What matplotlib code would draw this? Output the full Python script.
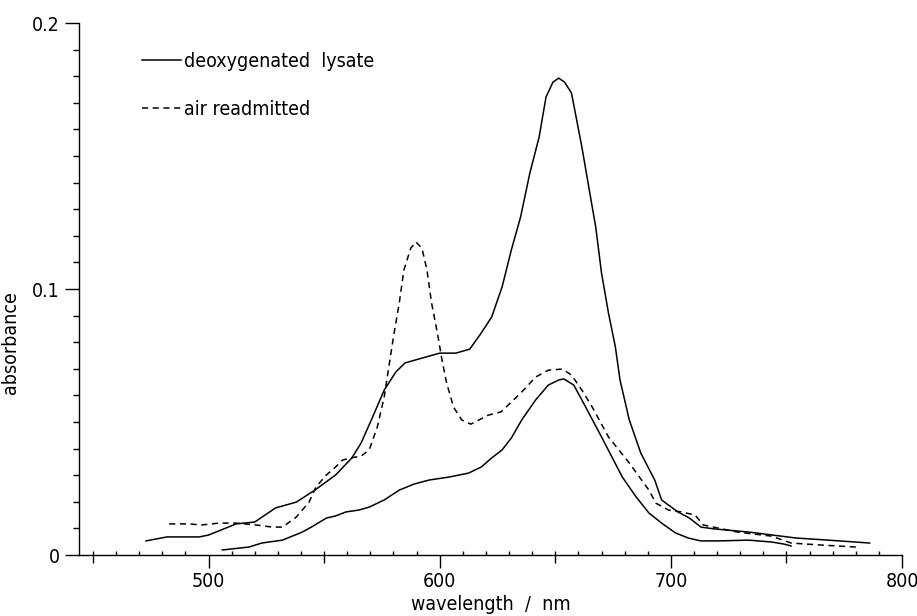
import numpy as np
import matplotlib
matplotlib.use("Agg")
import matplotlib.pyplot as plt
from matplotlib.ticker import MultipleLocator

plt.rcParams['font.family'] = ['DejaVu Sans']
plt.rcParams['font.stretch'] = 'condensed'
plt.rcParams['font.weight'] = 'light'

# deoxygenated lysate (upper solid trace)
deoxy_nm = [473, 482, 496, 500, 512, 520, 529, 538, 546, 555, 562, 566, 571, 576,
            581, 585, 591, 600, 607, 613, 618, 622.5, 627, 631, 635, 639, 643, 646,
            649, 651.5, 654, 657, 659, 661.5, 664.5, 667.5, 670, 673, 676, 678, 682,
            687, 693, 696, 703, 708, 713, 719, 734, 744, 754, 768, 786]
deoxy_abs = [0.0053, 0.0068, 0.0068, 0.0075, 0.0117, 0.0124, 0.0177, 0.0199, 0.0244,
             0.0301, 0.0365, 0.0421, 0.0519, 0.0620, 0.0688, 0.0722, 0.0737, 0.0759,
             0.0759, 0.0774, 0.0835, 0.0895, 0.1008, 0.1147, 0.1271, 0.1436, 0.1571,
             0.1722, 0.1778, 0.1793, 0.1778, 0.1737, 0.1647, 0.1534, 0.1383, 0.1233,
             0.1060, 0.0910, 0.0782, 0.0658, 0.0508, 0.0383, 0.0282, 0.0207, 0.0162,
             0.0139, 0.0105, 0.0098, 0.0086, 0.0075, 0.0064, 0.0056, 0.0045]

# air readmitted (dashed trace)
air_nm = [483, 491.5, 497, 504.5, 512, 520.5, 527.5, 532, 538, 543.5, 546.5, 551, 555,
          558, 561.5, 566, 569.5, 573, 576, 578, 580, 582.5, 584.5, 587.5, 589.7, 592.3,
          594.5, 596.5, 599, 601, 603, 606, 609.5, 613.5, 617, 621, 626.5, 631, 635.5,
          641.5, 647, 653, 657, 661.5, 666, 673, 682, 690.5, 693.5, 699, 704.5, 710.5,
          714, 729, 743.5, 752, 764, 780]
air_abs = [0.0117, 0.0117, 0.0113, 0.0120, 0.0120, 0.0113, 0.0105, 0.0105, 0.0143,
           0.0199, 0.0256, 0.0301, 0.0331, 0.0357, 0.0365, 0.0372, 0.0395, 0.0481,
           0.0594, 0.0707, 0.0820, 0.0947, 0.1071, 0.1154, 0.1177, 0.1154, 0.1071,
           0.0947, 0.0835, 0.0733, 0.0647, 0.0556, 0.0508, 0.0492, 0.0508, 0.0526,
           0.0538, 0.0575, 0.0613, 0.0669, 0.0695, 0.0699, 0.0677, 0.0620, 0.0556,
           0.0444, 0.0346, 0.0244, 0.0195, 0.0169, 0.0162, 0.0150, 0.0113, 0.0086,
           0.0071, 0.0045, 0.0038, 0.0030]

# lower solid trace
low_nm = [506, 517.5, 523, 532, 540.5, 544.5, 551, 555, 559.5, 565, 569.5, 576, 582.5,
          589, 595.5, 604, 612.5, 618, 622.5, 627, 631, 635.5, 641.5, 647, 651.5, 653.7,
          658, 661.5, 670, 679, 685, 690.5, 696, 702, 707.5, 713, 720.5, 733.5, 743.5,
          749, 752]
low_abs = [0.0019, 0.0030, 0.0045, 0.0056, 0.0086, 0.0105, 0.0139, 0.0147, 0.0162,
           0.0169, 0.0180, 0.0207, 0.0244, 0.0267, 0.0282, 0.0293, 0.0308, 0.0331,
           0.0365, 0.0395, 0.0440, 0.0508, 0.0583, 0.0639, 0.0658, 0.0662, 0.0639,
           0.0583, 0.0444, 0.0293, 0.0218, 0.0158, 0.0120, 0.0083, 0.0064, 0.0053,
           0.0053, 0.0056, 0.0049, 0.0041, 0.0034]

fig = plt.figure(figsize=(9.17, 6.16), dpi=100)
ax = fig.add_axes([0.0862, 0.0990, 0.8975, 0.8636])

ax.plot(deoxy_nm, deoxy_abs, color='black', lw=1.1, label='deoxygenated  lysate')
ax.plot(air_nm, air_abs, color='black', lw=1.1, linestyle=(0, (4, 3)),
        label='air readmitted')
ax.plot(low_nm, low_abs, color='black', lw=1.1)

ax.set_xlim(444, 800)
ax.set_ylim(0, 0.2)
for s in ['top', 'right']:
    ax.spines[s].set_visible(False)
for s in ['left', 'bottom']:
    ax.spines[s].set_linewidth(1.0)

fs = 14
ax.set_xticks([500, 600, 700, 800])
ax.xaxis.set_minor_locator(MultipleLocator(10))
ax.set_yticks([0, 0.1, 0.2])
ax.set_yticklabels(['0', '0.1', '0.2'])
ax.yaxis.set_minor_locator(MultipleLocator(0.01))
ax.tick_params(axis='x', which='major', direction='out', length=9, width=1,
               labelsize=fs, pad=3)
ax.tick_params(axis='x', which='minor', direction='in', length=3, width=1)
ax.tick_params(axis='y', which='major', direction='out', length=10, width=1,
               labelsize=fs, pad=4)
ax.tick_params(axis='y', which='minor', direction='out', length=4, width=1)

# intermediate ticks every 50 nm
sec = ax.secondary_xaxis('bottom')
sec.set_xticks([450, 550, 650, 750])
sec.tick_params(direction='out', length=6, width=1, labelbottom=False)
sec.spines['bottom'].set_visible(False)

ax.set_xlabel('wavelength  /  nm', fontsize=fs, labelpad=3)
ax.set_ylabel('absorbance', fontsize=fs)
ax.yaxis.set_label_coords(-0.072, 0.40)

ax.legend(loc='upper left', bbox_to_anchor=(0.077, 0.946), frameon=False,
          fontsize=fs, handlelength=2.0, handletextpad=0.15, labelspacing=1.5,
          borderpad=0, borderaxespad=0)

fig.savefig('out.png', dpi=100)
